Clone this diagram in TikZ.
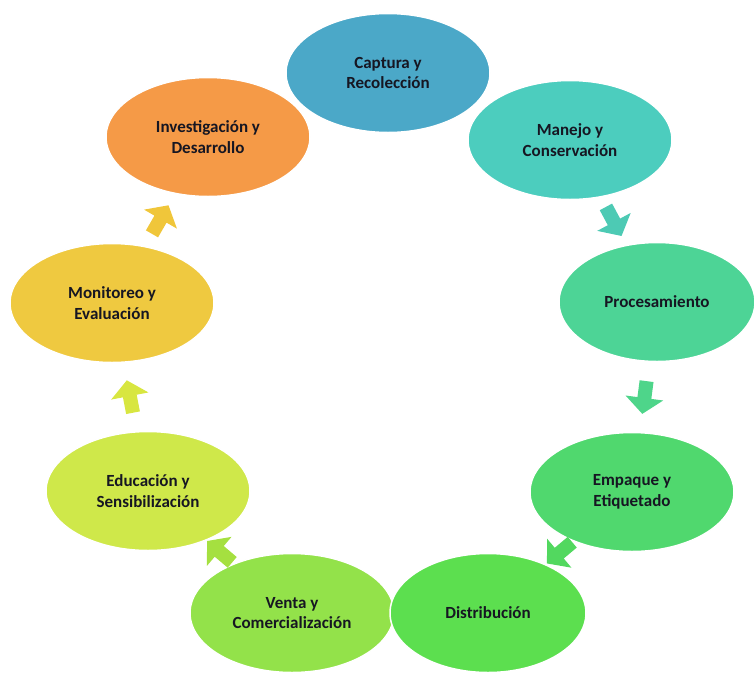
\documentclass[tikz,border=0pt]{standalone}
\usepackage{fontspec}
\setmainfont{Carlito}
\usetikzlibrary{calc,shapes.geometric}
\definecolor{cCap}{RGB}{75,168,200}
\definecolor{cMan}{RGB}{76,205,190}
\definecolor{cPro}{RGB}{77,212,150}
\definecolor{cEmp}{RGB}{80,216,110}
\definecolor{cDis}{RGB}{92,223,79}
\definecolor{cVen}{RGB}{147,226,74}
\definecolor{cEdu}{RGB}{207,232,74}
\definecolor{cMon}{RGB}{239,201,64}
\definecolor{cInv}{RGB}{245,154,71}
\definecolor{aOne}{RGB}{77,202,180}
\definecolor{aTwo}{RGB}{78,213,138}
\definecolor{aThree}{RGB}{82,216,95}
\definecolor{aFour}{RGB}{165,224,64}
\definecolor{aFive}{RGB}{216,230,64}
\definecolor{aSix}{RGB}{240,198,58}
\definecolor{txt}{RGB}{22,22,34}
\tikzset{
  stage/.style={ellipse, draw=white, line width=1.5pt, minimum width=204pt, minimum height=119pt,
    inner sep=0pt, align=center, text=txt, font=\fontsize{17pt}{20.5pt}\selectfont\bfseries},
  blockarrow/.pic={
    \fill[pic actions] (-16,-7) -- (1,-7) -- (1,-19) -- (17,0) -- (1,19) -- (1,7) -- (-16,7) -- cycle;
  }
}
\begin{document}
\begin{tikzpicture}[x=1pt,y=-1pt]
\useasboundingbox (0,0) rectangle (755,673);
\node[stage, fill=cCap] (cap) at (388,73) {Captura y\\Recolección};
\node[stage, fill=cMan] (man) at (570,140) {Manejo y\\Conservación};
\node[stage, fill=cPro, minimum width=196pt] (pro) at (657,302) {Procesamiento};
\node[stage, fill=cEmp] (emp) at (632,492) {Empaque y\\Etiquetado};
\node[stage, fill=cVen] (ven) at (292,613) {Venta y\\Comercialización};
\node[stage, fill=cDis, minimum width=196pt] (dis) at (488,613) {Distribución};
\node[stage, fill=cEdu] (edu) at (148,491) {Educación y\\Sensibilización};
\node[stage, fill=cMon] (mon) at (112,303) {Monitoreo y\\Evaluación};
\node[stage, fill=cInv] (inv) at (208,137) {Investigación y\\Desarrollo};
\foreach \a/\b/\c in {man/pro/aOne, pro/emp/aTwo, emp/dis/aThree, ven/edu/aFour, edu/mon/aFive, mon/inv/aSix}{
  \path let \p1=($(\b)-(\a)$), \n1={atan2(\y1,\x1)} in
    pic[fill=\c, rotate=\n1] at ($(\a)!0.5!(\b)$) {blockarrow};
}
\end{tikzpicture}
\end{document}
